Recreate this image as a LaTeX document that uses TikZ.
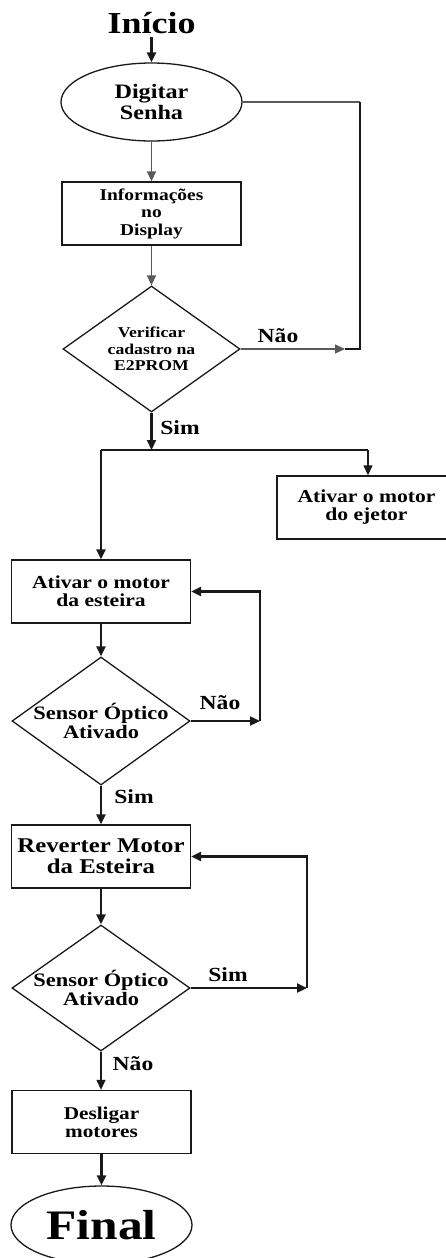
\documentclass[tikz,border=0pt]{standalone}
\usepackage{fontspec}
\setmainfont[FakeStretch=1.18]{Liberation Serif}
\usetikzlibrary{arrows.meta,shapes.geometric}
\definecolor{lineGray}{RGB}{90,90,90}
\definecolor{lineDark}{RGB}{25,25,25}
\newcommand{\txtsize}[2]{\fontsize{#1}{#2}\selectfont\bfseries}
\begin{document}
\begin{tikzpicture}[x=1pt,y=-1pt,
  box/.style={draw=lineDark,line width=1.3pt,rectangle,minimum width=179pt,minimum height=63pt,inner sep=0pt,align=center},
  oval/.style={draw=lineDark,line width=1.3pt,ellipse,minimum width=181pt,minimum height=78pt,inner sep=0pt,align=center},
  decision/.style={draw=lineDark,line width=1.3pt,diamond,aspect=1.4,inner xsep=-20pt,inner ysep=0pt,align=center},
  lbl/.style={font=\txtsize{20}{22}},
  fino/.style={lineGray,line width=1.3pt,-{Triangle[length=10pt,width=9pt]}},
  grosso/.style={lineDark,line width=2.2pt,-{Triangle[length=10pt,width=9pt]}}]
  \useasboundingbox (0,0) rectangle (446,1258);
  % blocos
  \node[font=\txtsize{30.5}{32}] (inicio) at (151.5,23) {Início};
  \node[oval,font=\txtsize{20.5}{21}] (digitar) at (151.5,102) {Digitar\\Senha};
  \node[box,font=\txtsize{16.5}{17.5}] (info) at (151.5,213.5) {Informações\\no\\Display};
  \node[decision,minimum width=177pt,minimum height=126pt,font=\txtsize{15}{16.5}] (verif) at (151.5,349) {Verificar\\cadastro na\\E2PROM};
  \node[box,font=\txtsize{18.3}{18}] (ejetor) at (366.5,507.5) {Ativar o motor\\do ejetor};
  \node[box,font=\txtsize{18.3}{18}] (esteira) at (101,591.5) {Ativar o motor\\da esteira};
  \node[decision,minimum width=178pt,minimum height=128pt,font=\txtsize{19}{19}] (sensorA) at (101,721) {Sensor Óptico\\Ativado};
  \node[box,font=\txtsize{21}{21}] (reverter) at (101,856.5) {Reverter Motor\\da Esteira};
  \node[decision,minimum width=178pt,minimum height=126pt,font=\txtsize{19}{19}] (sensorB) at (101,988) {Sensor Óptico\\Ativado};
  \node[box,font=\txtsize{18}{18}] (desligar) at (101.5,1122) {Desligar\\motores};
  \node[oval,font=\txtsize{42}{44}] (final) at (101.5,1225) {Final};
  % rotulos
  \node[lbl] (naoLblA) at (278,336) {Não};
  \node[lbl] (simLblA) at (180,428) {Sim};
  \node[lbl] (naoLblB) at (220,703) {Não};
  \node[lbl] (simLblB) at (134,797) {Sim};
  \node[lbl] (simLblC) at (228,975) {Sim};
  \node[lbl] (naoLblC) at (133,1064) {Não};
  % pontos
  \coordinate (naoA) at (345,349);
  \coordinate (voltaA) at (360,349);
  \coordinate (cantoA) at (360,102);
  \coordinate (ramo) at (151.5,450);
  \coordinate (ramoE) at (101,450);
  \coordinate (ramoD) at (368,450);
  \coordinate (voltaB) at (260,721);
  \coordinate (voltaC) at (307,988);
  % ligacoes
  \draw[grosso] (inicio) -- (digitar);
  \draw[fino] (digitar) -- (info);
  \draw[fino] (info) -- (verif);
  \draw[fino] (verif) -- (naoA);
  \draw[lineGray,line width=1.3pt] (digitar.east) -- (cantoA);
  \draw[lineDark,line width=2.2pt] (cantoA) -- (voltaA) -- (naoA);
  \draw[grosso] (verif) -- (ramo);
  \draw[lineDark,line width=2.2pt] (ramoE) -- (ramoD);
  \draw[grosso] (ramoE) -- (esteira);
  \draw[fino,lineDark] (ramoD) -- (ramoD |- ejetor.north);
  \draw[grosso] (esteira) -- (sensorA);
  \draw[grosso] (sensorA) -- (voltaB);
  \draw[grosso] (voltaB) |- (esteira.east);
  \draw[grosso] (sensorA) -- (reverter);
  \draw[grosso] (reverter) -- (sensorB);
  \draw[grosso] (sensorB) -- (voltaC);
  \draw[grosso] (voltaC) |- (reverter.east);
  \draw[fino,lineDark] (sensorB.south) -- (sensorB.south |- desligar.north);
  \draw[grosso] (desligar) -- (final);
\end{tikzpicture}
\end{document}
